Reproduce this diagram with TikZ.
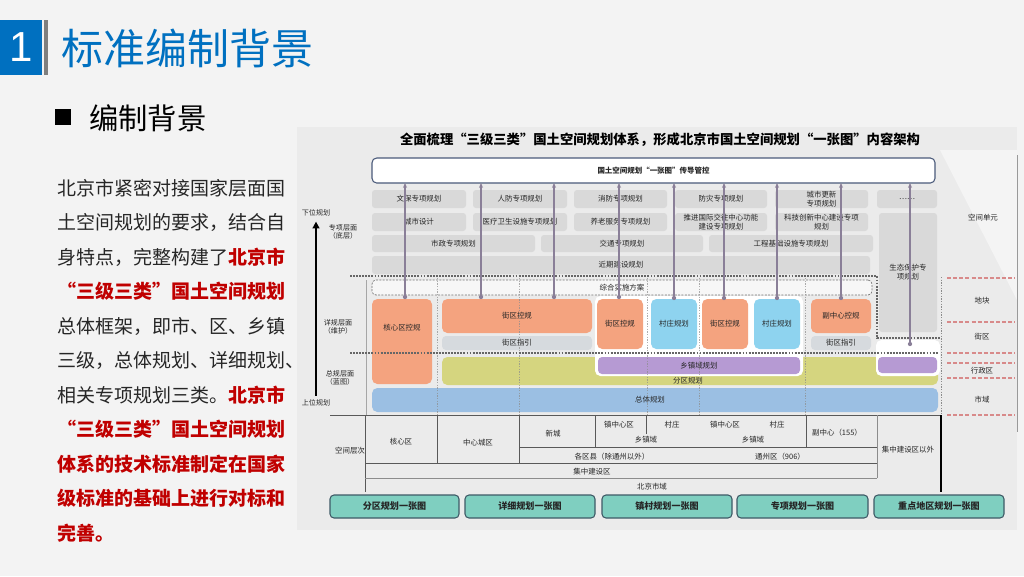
\documentclass[tikz,border=0pt]{standalone}
\usepackage{fontspec}
\setmainfont{Noto Sans CJK SC}
\newfontfamily\latinsans{Liberation Sans}
\usetikzlibrary{arrows.meta}
\definecolor{pagebg}{HTML}{F3F3F3}
\definecolor{panelbg}{HTML}{EBEBEB}
\definecolor{tblue}{HTML}{0070C0}
\definecolor{barg}{HTML}{7F7F7F}
\definecolor{boxg}{HTML}{D9D9D9}
\definecolor{guideg}{HTML}{D6DADE}
\definecolor{orng}{HTML}{F4A37F}
\definecolor{skyb}{HTML}{8ED3EF}
\definecolor{purp}{HTML}{B69AD3}
\definecolor{yell}{HTML}{D5D57F}
\definecolor{totb}{HTML}{9BBFE3}
\definecolor{btnteal}{HTML}{7FCFC0}
\definecolor{btnedge}{HTML}{3E5A66}
\definecolor{connc}{HTML}{8A7F98}
\definecolor{redt}{HTML}{C00000}
\definecolor{dashr}{HTML}{D88A8A}
\definecolor{txtd}{HTML}{262626}
\definecolor{topedge}{HTML}{4A5A7A}
\newcommand\sml{\fontsize{5.6}{6.6}\selectfont}
\newcommand\redb[1]{{\color{redt}\bfseries #1}}
\newcommand\mybox[7]{\node[#6,minimum width={(#4-#2)*0.75pt},minimum height={(#5-#3)*0.75pt}] (#1) at ({(#2+#4)/2},{(#3+#5)/2}) {#7};}
\begin{document}
\begin{tikzpicture}[x=0.75pt,y=-0.75pt,
  every node/.style={inner sep=0pt,outer sep=0pt},
  gbox/.style={fill=boxg,rounded corners=2.2pt,align=center,font=\sml,text=txtd},
  obox/.style={fill=orng,rounded corners=4pt,align=center,font=\sml,text=txtd},
  bbox/.style={fill=skyb,rounded corners=4pt,align=center,font=\sml,text=txtd},
  ibox/.style={fill=guideg,rounded corners=3pt,align=center,font=\sml,text=txtd},
  pbox/.style={fill=purp,rounded corners=3pt,align=center,font=\sml,text=txtd},
  wpanel/.style={fill=white,rounded corners=4pt},
  lbl/.style={font=\sml,text=txtd,align=center},
  body/.style={anchor=base west,font=\fontsize{14.25}{17}\selectfont,text=txtd},
  hl/.style={text=redt,font=\bfseries\fontsize{14.25}{17}\selectfont},
  conn/.style={draw=connc,line width=0.9pt,-{Stealth[length=3.6pt,width=3pt]}},
  cdot/.style={fill=connc},
  layerdot/.style={draw=black!60,line width=1.5pt,dash pattern=on 1.4pt off 0.9pt},
  guide/.style={draw=black!45,line width=0.35pt,dash pattern=on 1pt off 1pt},
  tline/.style={draw=black!65,line width=0.5pt},
  rdash/.style={draw=dashr,line width=0.8pt,dash pattern=on 3pt off 1.6pt},
  btn/.style={fill=btnteal,draw=btnedge,line width=0.8pt,rounded corners=3pt,font=\bfseries\fontsize{6.8}{8}\selectfont,text=txtd}
]
\useasboundingbox (0,0) rectangle (1024,576);
% background
\fill[pagebg] (0,0) rectangle (1024,576);
\fill[panelbg] (297,127) rectangle (1017,530);
\fill[white,opacity=0.45] (940,150) -- (1017,150) -- (1017,300) -- cycle;
% header
\fill[tblue] (0,20) rectangle (42,75);
\fill[barg] (44,20) rectangle (48,75);
\node[font=\latinsans\fontsize{31.5}{32}\selectfont,text=white] (num) at (21,47.5) {1};
\node[anchor=west,font=\fontsize{31.5}{32}\selectfont,text=tblue] (title) at (61,48) {标准编制背景};
\fill[black] (55,109) rectangle (71,125);
\node[anchor=west,font=\fontsize{22}{24}\selectfont,text=black] (sub) at (89,118) {编制背景};
% body text
\node[body] (t1) at (57,195) {北京市紧密对接国家层面国};
\node[body] (t2) at (57,229.5) {土空间规划的要求，结合自};
\node[body] (t3) at (57,264) {身特点，完整构建了\redb{北京市}};
\node[body,hl] (t4) at (57,298.5) {“三级三类”国土空间规划};
\node[body] (t5) at (57,333) {总体框架，即市、区、乡镇};
\node[body] (t6) at (57,367.5) {三级，总体规划、详细规划、};
\node[body] (t7) at (57,402) {相关专项规划三类。\redb{北京市}};
\node[body,hl] (t8) at (57,436.5) {“三级三类”国土空间规划};
\node[body,hl] (t9) at (57,471) {体系的技术标准制定在国家};
\node[body,hl] (t10) at (57,505.5) {级标准的基础上进行对标和};
\node[body,hl] (t11) at (57,540) {完善。};
% diagram title
\node[font=\bfseries\fontsize{10}{12}\selectfont,text=black] (dtitle) at (660,140) {全面梳理“三级三类”国土空间规划体系，形成北京市国土空间规划“一张图”内容架构};
% top box
\mybox{top}{372}{158}{935}{183}{draw=topedge,line width=0.8pt,fill=white,rounded corners=3.5pt,font=\bfseries\sml,text=txtd}{国土空间规划“一张图”传导管控}
% special plans rows
\mybox{r1a}{372}{190}{466}{208}{gbox}{文保专项规划}
\mybox{r1b}{473}{190}{567}{208}{gbox}{人防专项规划}
\mybox{r1c}{574}{190}{667}{208}{gbox}{消防专项规划}
\mybox{r1d}{675}{190}{767}{208}{gbox}{防灾专项规划}
\mybox{r1e}{775}{190}{868}{208}{gbox}{城市更新\\专项规划}
\mybox{r1f}{877}{190}{937}{208}{gbox}{……}
\mybox{r2a}{372}{213}{466}{231}{gbox}{城市设计}
\mybox{r2b}{473}{213}{567}{231}{gbox}{医疗卫生设施专项规划}
\mybox{r2c}{574}{213}{667}{231}{gbox}{养老服务专项规划}
\mybox{r2d}{675}{213}{767}{231}{gbox}{推进国际交往中心功能\\建设专项规划}
\mybox{r2e}{775}{213}{868}{231}{gbox}{科技创新中心建设专项\\规划}
\mybox{eco}{879}{213}{937}{332}{gbox}{生态保护专\\项规划}
\mybox{r3a}{372}{235}{535}{252}{gbox}{市政专项规划}
\mybox{r3b}{541}{235}{703}{252}{gbox}{交通专项规划}
\mybox{r3c}{709}{235}{873}{252}{gbox}{工程基础设施专项规划}
\mybox{r4a}{372}{256}{870}{274}{gbox}{近期建设规划}
% implementation plan
\mybox{impl}{372}{280}{872}{295}{fill=white!60!panelbg,draw=black!55,line width=0.5pt,dash pattern=on 1.5pt off 1pt,rounded corners=3pt,font=\sml,text=txtd}{综合实施方案}
% lower layers
\mybox{zone}{442}{357}{938}{385}{fill=yell,rounded corners=4pt}{}
\node[lbl] (zonet) at (688,380.5) {分区规划};
\mybox{wp1}{595}{296}{803}{376}{wpanel}{}
\mybox{wp2}{876}{340}{940}{376}{wpanel}{}
\mybox{core}{372}{299}{432}{384}{obox}{}
\node[lbl] (coret) at (402,328) {核心区控规};
\mybox{jqa}{442}{299}{592}{333}{obox}{街区控规}
\mybox{gda}{442}{336}{592}{350}{ibox}{街区指引}
\mybox{jqb}{597}{299}{643}{349}{obox}{街区控规}
\mybox{cza}{651}{299}{697}{349}{bbox}{村庄规划}
\mybox{jqc}{702}{299}{748}{349}{obox}{街区控规}
\mybox{czb}{754}{299}{800}{349}{bbox}{村庄规划}
\mybox{fzx}{811}{299}{871}{333}{obox}{副中心控规}
\mybox{gdb}{811}{336}{871}{350}{ibox}{街区指引}
\mybox{xza}{598}{357}{800}{374}{pbox}{乡镇域规划}
\mybox{xzb}{878}{357}{937}{373}{pbox}{}
\mybox{tot}{372}{388}{938}{412}{fill=totb,rounded corners=4pt}{}
\node[lbl] (tott) at (650,400) {总体规划};
% guide lines
\draw[draw=black!35,line width=0.35pt] (366,280) -- (366,415);
\foreach \gx in {437,519,647,699,805} \draw[guide,opacity=0.7] (\gx,278) -- (\gx,415);
\draw[guide] (941,277) -- (941,415);
% layer separators
\draw[layerdot] (350,276) -- (877,276) -- (877,338) -- (940,338);
\draw[layerdot] (350,353) -- (938,353);
% connectors
\foreach \n/\cx/\cy in {a/405/297,b/481/297,c/554/297,d/619/297,e/674/298,f/724/298,g/777/298,h/841/298,i/910/344}{
  \coordinate (d\n) at (\cx,\cy);
  \draw[conn] (d\n) -- (d\n |- top.south);
  \fill[cdot] (d\n) circle (1.6pt);
}
% left axis
\node[lbl,font=\fontsize{5.3}{6.3}\selectfont] (xia) at (316,213) {下位规划};
\node[lbl,font=\fontsize{5.3}{6.3}\selectfont] (shang) at (316,403) {上位规划};
\draw[black,line width=2.2pt,-{Triangle[length=5pt,width=5pt]}] ([yshift=3pt]shang.north) -- ([yshift=-4pt]xia.south);
\node[lbl,font=\fontsize{5.3}{6.3}\selectfont] (lz) at (343,232) {专项层面\\（底层）};
\node[lbl,font=\fontsize{5.3}{6.3}\selectfont] (lx) at (338,327) {详规层面\\（维护）};
\node[lbl,font=\fontsize{5.3}{6.3}\selectfont] (lt) at (340,378) {总规层面\\（蓝图）};
% right column
\draw[draw=black!40,line width=0.5pt] (1017,155) -- (1017,432);
\foreach \ry in {278,322,353,363,378,415} \draw[rdash] (947,\ry) -- (1015,\ry);
\node[lbl] (rk) at (983,218) {空间单元};
\node[lbl] (rd) at (982,301) {地块};
\node[lbl] (rj) at (982,337) {街区};
\node[lbl] (rx) at (982,370.5) {行政区};
\node[lbl] (rs) at (982,400) {市域};
% table
\draw[tline] (330,415) -- (941,415);
\draw[tline] (365,415) -- (365,492);
\draw[tline] (437,415) -- (437,463);
\draw[tline] (519,415) -- (519,463);
\draw[tline] (595,415) -- (595,447);
\draw[tline] (646,415) -- (646,434);
\draw[tline] (806,415) -- (806,447);
\draw[draw=black!45,line width=0.5pt] (877,415) -- (877,478);
\draw[black,line width=1.2pt] (941,415) -- (941,492);
\draw[tline] (519,447) -- (877,447);
\draw[tline] (365,463) -- (877,463);
\draw[draw=black!45,line width=0.5pt] (365,478) -- (877,478);
\node[lbl] (kj) at (350,451) {空间层次};
\node[lbl] (c1) at (401,442) {核心区};
\node[lbl] (c2) at (478,443) {中心城区};
\node[lbl] (c3) at (553,434) {新城};
\node[lbl] (c4) at (619,425) {镇中心区};
\node[lbl] (c5) at (672,425) {村庄};
\node[lbl] (c6) at (646,440) {乡镇域};
\node[lbl] (c7) at (725,425) {镇中心区};
\node[lbl] (c8) at (777,425) {村庄};
\node[lbl] (c9) at (753,440) {乡镇域};
\node[lbl] (c10) at (837,433) {副中心（155）};
\node[lbl] (c11) at (908,450) {集中建设区以外};
\node[lbl] (c12) at (612,457) {各区县（除通州以外）};
\node[lbl] (c13) at (780,457) {通州区（906）};
\node[lbl] (c14) at (592,472) {集中建设区};
\node[lbl] (c15) at (652,487) {北京市域};
% buttons
\mybox{b1}{330}{495}{459}{518}{btn}{分区规划一张图}
\mybox{b2}{465}{495}{595}{518}{btn}{详细规划一张图}
\mybox{b3}{602}{495}{732}{518}{btn}{镇村规划一张图}
\mybox{b4}{737}{495}{868}{518}{btn}{专项规划一张图}
\mybox{b5}{874}{495}{1004}{518}{btn}{重点地区规划一张图}
\end{tikzpicture}
\end{document}
